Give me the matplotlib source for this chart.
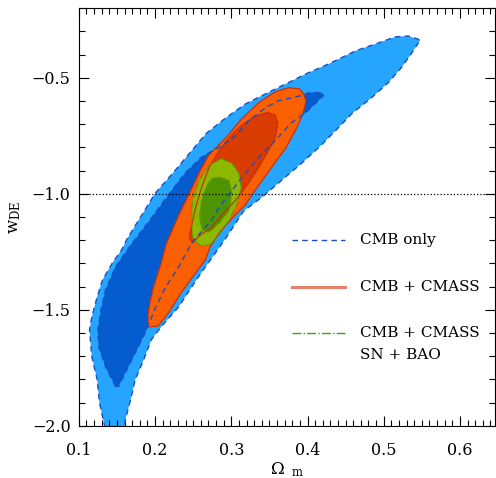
import numpy as np
import matplotlib
matplotlib.use('Agg')
import matplotlib.pyplot as plt
from matplotlib.ticker import MultipleLocator

plt.rcParams['font.family'] = ['DejaVu Serif']
plt.rcParams['mathtext.fontset'] = 'dejavuserif'

# contour outlines, (Omega_m, w_DE)
# CMB only, 95% region
cmb_outer = [(0.137, -2.05), (0.127, -1.899), (0.124, -1.80), (0.117, -1.702), (0.114, -1.586),
             (0.117, -1.53), (0.124, -1.444), (0.131, -1.371), (0.144, -1.298), (0.156, -1.242),
             (0.164, -1.19), (0.184, -1.084), (0.200, -0.998), (0.223, -0.912), (0.245, -0.826),
             (0.267, -0.74), (0.293, -0.672), (0.319, -0.612), (0.353, -0.556), (0.375, -0.521),
             (0.398, -0.483), (0.428, -0.44), (0.463, -0.384), (0.493, -0.35), (0.515, -0.324),
             (0.532, -0.32), (0.548, -0.337), (0.536, -0.397), (0.523, -0.457), (0.506, -0.521),
             (0.484, -0.586), (0.458, -0.655), (0.437, -0.727), (0.415, -0.80), (0.392, -0.869),
             (0.366, -0.942), (0.340, -1.015), (0.316, -1.075), (0.291, -1.20), (0.266, -1.315),
             (0.248, -1.401), (0.231, -1.487), (0.208, -1.573), (0.195, -1.629), (0.185, -1.715),
             (0.174, -1.80), (0.168, -1.886), (0.161, -1.972), (0.159, -2.05)]
# CMB only, 68% region
cmb_inner = [(0.148, -1.83), (0.135, -1.745), (0.126, -1.659), (0.125, -1.586), (0.129, -1.50),
             (0.135, -1.414), (0.148, -1.315), (0.168, -1.221), (0.193, -1.114), (0.219, -0.998),
             (0.240, -0.908), (0.262, -0.839), (0.288, -0.792), (0.306, -0.749), (0.323, -0.685),
             (0.345, -0.629), (0.362, -0.599), (0.392, -0.577), (0.402, -0.564), (0.419, -0.564),
             (0.421, -0.577), (0.398, -0.650), (0.379, -0.693), (0.358, -0.770), (0.336, -0.843),
             (0.314, -0.929), (0.301, -0.985), (0.284, -1.058), (0.274, -1.114), (0.248, -1.212),
             (0.231, -1.315), (0.214, -1.401), (0.201, -1.487), (0.194, -1.543), (0.187, -1.599),
             (0.176, -1.672), (0.165, -1.745), (0.152, -1.83)]
# CMB + CMASS
cmass_outer = [(0.191, -1.573), (0.204, -1.570), (0.2175, -1.513), (0.234, -1.427), (0.253, -1.341),
               (0.266, -1.285), (0.272, -1.230), (0.285, -1.165), (0.301, -1.105), (0.318, -1.049),
               (0.334, -0.972), (0.353, -0.886), (0.372, -0.800), (0.386, -0.715), (0.394, -0.655),
               (0.398, -0.599), (0.395, -0.569), (0.389, -0.547), (0.375, -0.543), (0.358, -0.560),
               (0.336, -0.607), (0.314, -0.676), (0.293, -0.758), (0.270, -0.835), (0.258, -0.908),
               (0.245, -0.998), (0.231, -1.092), (0.215, -1.212), (0.208, -1.298), (0.198, -1.401),
               (0.194, -1.457), (0.191, -1.513)]
cmass_inner = [(0.347, -0.650), (0.357, -0.659), (0.361, -0.693), (0.358, -0.758), (0.349, -0.813),
               (0.336, -0.886), (0.323, -0.951), (0.308, -1.019), (0.291, -1.079), (0.274, -1.144),
               (0.258, -1.182), (0.249, -1.212), (0.245, -1.191), (0.248, -1.135), (0.254, -1.049),
               (0.262, -0.964), (0.271, -0.886), (0.284, -0.813), (0.297, -0.758), (0.313, -0.706),
               (0.330, -0.667)]
# CMB + CMASS + SN + BAO
all_outer = [(0.287, -0.848), (0.301, -0.869), (0.310, -0.912), (0.313, -0.972), (0.308, -1.041),
             (0.297, -1.114), (0.284, -1.178), (0.271, -1.221), (0.258, -1.221), (0.249, -1.187),
             (0.248, -1.114), (0.249, -1.028), (0.258, -0.942), (0.271, -0.878)]
all_inner = [(0.284, -0.929), (0.297, -0.942), (0.301, -0.998), (0.297, -1.071), (0.284, -1.127),
             (0.271, -1.165), (0.262, -1.157), (0.258, -1.101), (0.261, -1.028), (0.268, -0.964),
             (0.275, -0.933)]

x_ticks = [0.1, 0.2, 0.3, 0.4, 0.5, 0.6]
y_ticks = [-2.0, -1.5, -1.0, -0.5]
labels = ['CMB only', 'CMB + CMASS', 'CMB + CMASS', 'SN + BAO']


def closed(pts):
    a = np.array(pts + [pts[0]])
    return a[:, 0], a[:, 1]


fig = plt.figure(figsize=(4.96, 4.78), dpi=100)
ax = fig.add_axes([0.159, 0.109, 0.839, 0.874])

# filled regions
ax.fill(*closed(cmb_outer), color='#25a5fd', lw=0, zorder=1)
ax.fill(*closed(cmb_inner), color='#045ccf', lw=0, zorder=2)
ax.fill(*closed(cmass_outer), color='#fa6000', lw=0, zorder=3)
ax.fill(*closed(cmass_inner), color='#d83c00', lw=0, zorder=4)
ax.fill(*closed(all_outer), color='#8db800', lw=0, zorder=5)
ax.fill(*closed(all_inner), color='#4e9300', lw=0, zorder=6)

# outlines
for c in (cmass_outer, cmass_inner):
    ax.plot(*closed(c), color='#c83010', lw=0.9, zorder=7)
for c in (all_outer, all_inner):
    ax.plot(*closed(c), color='#4e9a00', lw=0.7, ls='-.', zorder=7)
for c in (cmb_outer, cmb_inner):
    ax.plot(*closed(c), color='#1a4fc4', lw=1.0, ls=(0, (4, 3)), zorder=8)

ax.axhline(-1.0, color='k', ls=':', lw=0.9, zorder=9)

ax.set_xlim(0.1, 0.646)
ax.set_ylim(-2.0, -0.2)
ax.set_xticks(x_ticks)
ax.set_yticks(y_ticks)
ax.set_xticklabels(['%.1f' % v for v in x_ticks])
ax.set_yticklabels(['\u2212%.1f' % abs(v) for v in y_ticks])
ax.xaxis.set_minor_locator(MultipleLocator(0.01))
ax.yaxis.set_minor_locator(MultipleLocator(0.1))
ax.tick_params(which='both', direction='in', top=True, right=True, labelsize=11.5, width=0.8)
ax.tick_params(which='major', length=7)
ax.tick_params(which='minor', length=4)
ax.tick_params(axis='x', pad=11.5)
ax.tick_params(axis='y', pad=6)
for s in ax.spines.values():
    s.set_linewidth(0.8)

ax.set_xlabel(r'$\Omega_{\ \ \mathrm{m}}$', fontsize=12, labelpad=1)
ax.set_ylabel(r'w$_{\mathrm{DE}}$', fontsize=12, labelpad=6)

# legend, drawn by hand
key_styles = [dict(color='#1a4fc4', lw=1.0, ls=(0, (4, 3))),
              dict(color='#e8806c', lw=2.2, ls='-'),
              dict(color='#4e9a00', lw=1.0, ls='-.')]
row_y = [0.445, 0.333, 0.222, 0.170]
for st, yy in zip(key_styles, row_y):
    ax.plot([0.512, 0.639], [yy, yy], transform=ax.transAxes, zorder=10, **st)
for lab, yy in zip(labels, row_y):
    ax.text(0.675, yy, lab, transform=ax.transAxes, fontsize=11, va='center', ha='left', zorder=10)

fig.savefig('out.png', dpi=100)
